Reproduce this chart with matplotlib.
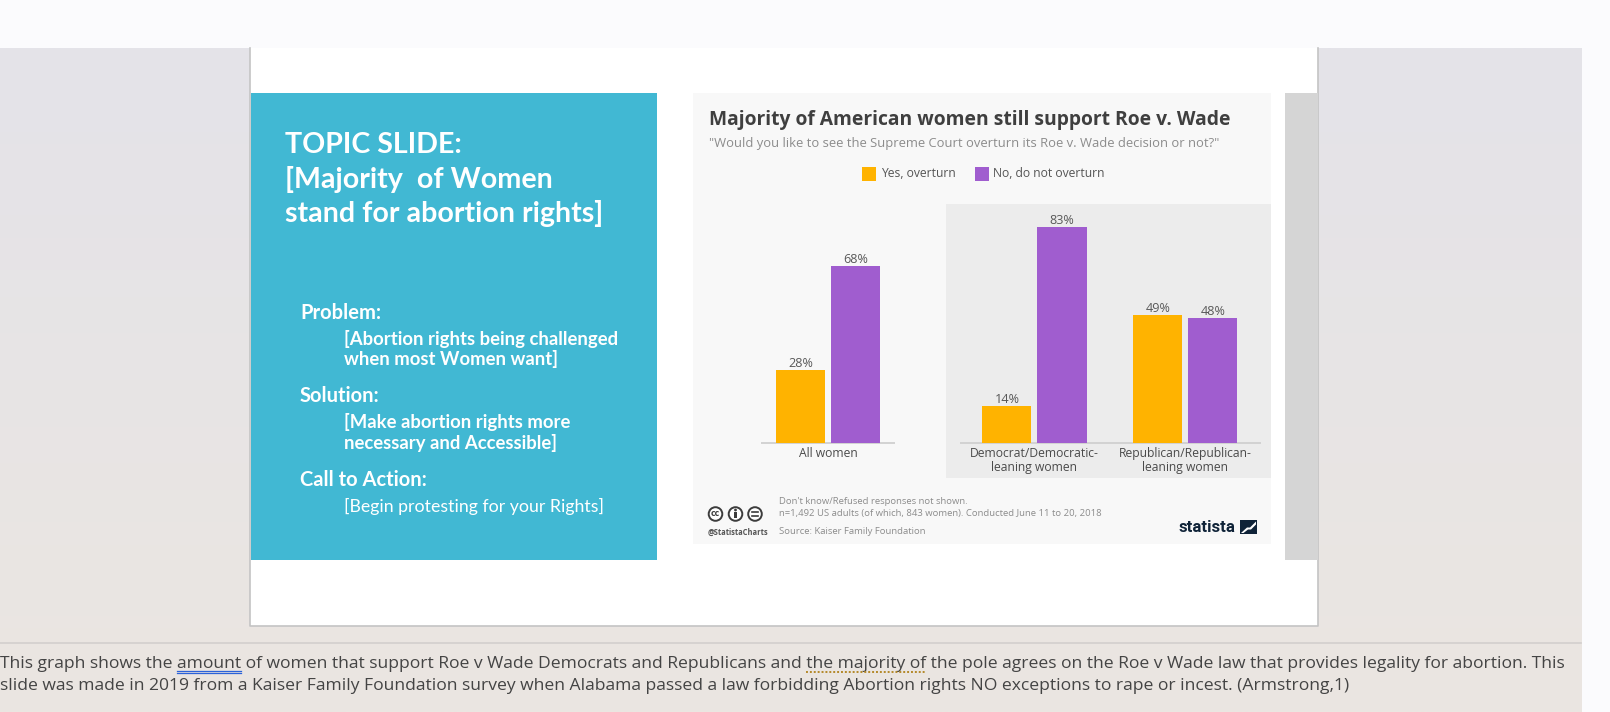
import numpy as np
import matplotlib
matplotlib.use("Agg")
import matplotlib.pyplot as plt
from matplotlib.patches import Rectangle, Circle, Polygon
from matplotlib.font_manager import FontProperties

# ---------------- data ----------------
categories = ["All women", "Democrat/Democratic-\nleaning women", "Republican/Republican-\nleaning women"]
yes_overturn = [28, 14, 49]
no_overturn = [68, 83, 48]
series_labels = ["Yes, overturn", "No, do not overturn"]

chart_title = "Majority of American women still support Roe v. Wade"
chart_subtitle = "\"Would you like to see the Supreme Court overturn its Roe v. Wade decision or not?\""
footer_lines = ["Don't know/Refused responses not shown.",
                "n=1,492 US adults (of which, 843 women). Conducted June 11 to 20, 2018",
                "Source: Kaiser Family Foundation"]

topic_lines = ["TOPIC SLIDE:", "[Majority  of Women", "stand for abortion rights]"]
problem_head = "Problem:"
problem_lines = ["[Abortion rights being challenged", "when most Women want]"]
solution_head = "Solution:"
solution_lines = ["[Make abortion rights more", "necessary and Accessible]"]
action_head = "Call to Action:"
action_line = "[Begin protesting for your Rights]"

para_line1 = ("This graph shows the amount of women that support Roe v Wade Democrats and Republicans "
              "and the majority of the pole agrees on the Roe v Wade law that provides legality for abortion. This")
para_line2 = ("slide was made in 2019 from a Kaiser Family Foundation survey when Alabama passed a law "
              "forbidding Abortion rights NO exceptions to rape or incest. (Armstrong,1)")

# ---------------- colours ----------------
YELLOW = "#ffb300"
PURPLE = "#a05dcf"
BLUE_BOX = "#41b8d3"

W, H = 1610, 712
fig = plt.figure(figsize=(W / 100, H / 100), dpi=100)
renderer = fig.canvas.get_renderer()


def fit_size(s, target, family, weight="normal"):
    fp = FontProperties(family=family, weight=weight, size=10)
    w, h, d = renderer.get_text_width_height_descent(s, fp, ismath=False)
    return 10 * target / w


def text_w(s, family, weight, size):
    fp = FontProperties(family=family, weight=weight, size=size)
    w, h, d = renderer.get_text_width_height_descent(s, fp, ismath=False)
    return w


bg = fig.add_axes([0, 0, 1, 1])
bg.set_xlim(0, W)
bg.set_ylim(H, 0)
bg.axis("off")

# page background
bg.add_patch(Rectangle((0, 0), W, H, color="#fbfbfd", zorder=0))
grad = np.linspace(0, 1, 256)[:, None]
top_c = np.array([0xe4, 0xe3, 0xe9]) / 255
bot_c = np.array([0xeb, 0xe6, 0xe1]) / 255
img = top_c[None, None, :] * (1 - grad[:, :, None]) + bot_c[None, None, :] * grad[:, :, None]
img = np.repeat(img, 2, axis=1)
bg.imshow(img, extent=[0, 1581, H, 48], aspect="auto", zorder=1, interpolation="bilinear")
bg.plot([0, 1581], [643, 643], color="#d3cfcd", lw=1.2, zorder=2)

# slide (border on left, right and bottom only)
bg.add_patch(Rectangle((250, 48), 1068, 578, facecolor="white", edgecolor="none", zorder=3))
bg.plot([250, 250, 1318, 1318], [48, 626, 626, 48], color="#c4c4c4", lw=1.2, zorder=3.5)
bg.add_patch(Rectangle((251, 93), 406, 467, facecolor=BLUE_BOX, edgecolor="none", zorder=4))
bg.add_patch(Rectangle((1285, 93), 33, 467, facecolor="#d5d5d5", edgecolor="none", zorder=4))
bg.add_patch(Rectangle((693, 93), 578, 451, facecolor="#f8f8f8", edgecolor="none", zorder=4))
bg.add_patch(Rectangle((946, 204), 325, 273.5, facecolor="#ececec", edgecolor="none", zorder=5))

# ---------------- left box text ----------------
LB = "Lato"
s_topic = fit_size(topic_lines[2], 319, LB, "bold")
for i, ln in enumerate(topic_lines):
    bg.text(284.5, 145 + 34.4 * i, ln, color="white", fontsize=s_topic, family=LB,
            weight="bold", va="center", ha="left", zorder=6)
s_head = fit_size(action_head, 127, LB, "bold")
s_sub = fit_size(problem_lines[0], 273, LB, "bold")
s_reg = fit_size(action_line, 261, LB, "normal")
bg.text(300, 313, problem_head, color="white", fontsize=s_head, family=LB, weight="bold", va="center", zorder=6)
bg.text(344, 339, problem_lines[0], color="white", fontsize=s_sub, family=LB, weight="bold", va="center", zorder=6)
bg.text(344, 359.5, problem_lines[1], color="white", fontsize=s_sub, family=LB, weight="bold", va="center", zorder=6)
bg.text(300, 396.5, solution_head, color="white", fontsize=s_head, family=LB, weight="bold", va="center", zorder=6)
bg.text(344, 422, solution_lines[0], color="white", fontsize=s_sub, family=LB, weight="bold", va="center", zorder=6)
bg.text(344, 443.5, solution_lines[1], color="white", fontsize=s_sub, family=LB, weight="bold", va="center", zorder=6)
bg.text(300, 479.5, action_head, color="white", fontsize=s_head, family=LB, weight="bold", va="center", zorder=6)
bg.text(344, 506, action_line, color="white", fontsize=s_reg, family=LB, weight="normal", va="center", zorder=6)

# ---------------- chart header ----------------
OS = "Open Sans"
bg.text(708.5, 120, chart_title, fontsize=fit_size(chart_title, 522, OS, "bold"), family=OS,
        weight="bold", color="#3f3f3f", va="center", ha="left", zorder=6)
bg.text(708.5, 144, chart_subtitle, fontsize=fit_size(chart_subtitle, 509, OS), family=OS,
        color="#8c8c8c", va="center", ha="left", zorder=6)
s_leg = fit_size(series_labels[1], 112, OS)
bg.add_patch(Rectangle((861.5, 166.5), 14, 14, facecolor=YELLOW, edgecolor="none", zorder=6))
bg.text(881, 173.5, series_labels[0], fontsize=s_leg, family=OS, color="#555555", va="center", zorder=6)
bg.add_patch(Rectangle((974.5, 166.5), 14, 14, facecolor=PURPLE, edgecolor="none", zorder=6))
bg.text(993, 173.5, series_labels[1], fontsize=s_leg, family=OS, color="#555555", va="center", zorder=6)

# ---------------- chart footer ----------------
s_foot = fit_size(footer_lines[1], 322, OS)
for ln, yy in zip(footer_lines, [501, 513.5, 531]):
    bg.text(779, yy, ln, fontsize=s_foot, family=OS, color="#8c8c8c", va="center", zorder=6)
for cx in [715.5, 735.5, 755]:
    bg.add_patch(Circle((cx, 514), 6.8, facecolor="white", edgecolor="#3c3c3c", lw=1.4, zorder=6))
bg.text(715.5, 514, "cc", fontsize=5.5, family="DejaVu Sans", weight="bold", color="#3c3c3c",
        ha="center", va="center", zorder=7)
bg.add_patch(Circle((735.5, 510), 1.4, facecolor="#3c3c3c", edgecolor="none", zorder=7))
bg.add_patch(Rectangle((734.1, 512.2), 2.8, 6.0, facecolor="#3c3c3c", edgecolor="none", zorder=7))
bg.plot([752.0, 758.0], [512.3, 512.3], color="#3c3c3c", lw=1.2, zorder=7)
bg.plot([752.0, 758.0], [515.7, 515.7], color="#3c3c3c", lw=1.2, zorder=7)
bg.text(707.5, 532, "@StatistaCharts", fontsize=fit_size("@StatistaCharts", 61, OS, "bold"), family=OS,
        weight="bold", color="#555555", va="center", zorder=6)
bg.text(1178, 527.5, "statista", fontsize=fit_size("statista", 57, "Roboto", "bold"), family="Roboto",
        weight="bold", color="#0f2338", va="center", zorder=6)
bg.add_patch(Rectangle((1240, 520), 17, 14, facecolor="#0f2338", edgecolor="none", zorder=6))
bg.add_patch(Polygon([[1241, 533], [1247, 527.5], [1250, 527.5], [1256, 521.5], [1256, 524.5],
                      [1251, 529.5], [1248, 529.5], [1243.5, 533]], closed=True,
                     facecolor="white", edgecolor="none", zorder=7))

# ---------------- bar chart ----------------
px_per_unit = 150.9
center0 = 828.0
base_px = 442.6
top_px = 204.0
px_per_pct = 2.598
ax = fig.add_axes([693 / W, 1 - base_px / H, (1271 - 693) / W, (base_px - top_px) / H])
ax.set_xlim((693 - center0) / px_per_unit, (1271 - center0) / px_per_unit)
ax.set_ylim(0, (base_px - top_px) / px_per_pct)
ax.axis("off")
ax.patch.set_alpha(0)

group_gap = 0.368
xpos = np.array([i + (group_gap if i > 0 else 0) for i in range(len(categories))])
bw = 0.325
off = 0.1826
b1 = ax.bar(xpos - off, yes_overturn, bw, color=YELLOW, zorder=3)
b2 = ax.bar(xpos + off, no_overturn, bw, color=PURPLE, zorder=3)
s_val = fit_size("68%", 25, OS)
for bars in (b1, b2):
    for r in bars:
        ax.annotate(f"{r.get_height():.0f}%", (r.get_x() + r.get_width() / 2, r.get_height()),
                    xytext=(0, 0), textcoords="offset pixels", ha="center", va="bottom",
                    fontsize=s_val, family=OS, color="#595959", zorder=4, annotation_clip=False)
# baselines
ax.hlines(0, xpos[0] - 0.447, xpos[0] + 0.447, color="#d2d2d2", lw=1.4, zorder=2, clip_on=False)
ax.hlines(0, xpos[1] - 0.49, xpos[2] + 0.50, color="#d2d2d2", lw=1.4, zorder=2, clip_on=False)
s_cat = fit_size("Democrat/Democratic-", 129, OS)
label_y = -4.5 / (base_px - top_px)
for x, lab in zip(xpos, categories):
    ax.text(x, label_y, lab, transform=ax.get_xaxis_transform(), ha="center", va="top", fontsize=s_cat,
            family=OS, color="#4a4a4a", linespacing=1.05, clip_on=False)

# ---------------- bottom paragraph ----------------
s_para = fit_size(para_line1, 1564, OS)
bg.text(0, 667.5, para_line1, fontsize=s_para, family=OS, color="#444444", va="baseline", ha="left", zorder=6)
bg.text(0, 690.5, para_line2, fontsize=s_para, family=OS, color="#444444", va="baseline", ha="left", zorder=6)
x_a0 = text_w("This graph shows the ", OS, "normal", s_para)
x_a1 = text_w("This graph shows the amount", OS, "normal", s_para)
bg.plot([x_a0, x_a1], [670.8, 670.8], color="#2b62d9", lw=0.9, zorder=7)
bg.plot([x_a0, x_a1], [672.8, 672.8], color="#2b62d9", lw=0.9, zorder=7)
pre = para_line1[:para_line1.index("the majority of")]
x_m0 = text_w(pre, OS, "normal", s_para)
x_m1 = text_w(pre + "the majority of", OS, "normal", s_para)
bg.plot([x_m0, x_m1], [671.8, 671.8], color="#b4892a", lw=1.4, ls=(0, (1, 1)), zorder=7)

fig.savefig("out.png", dpi=100)
